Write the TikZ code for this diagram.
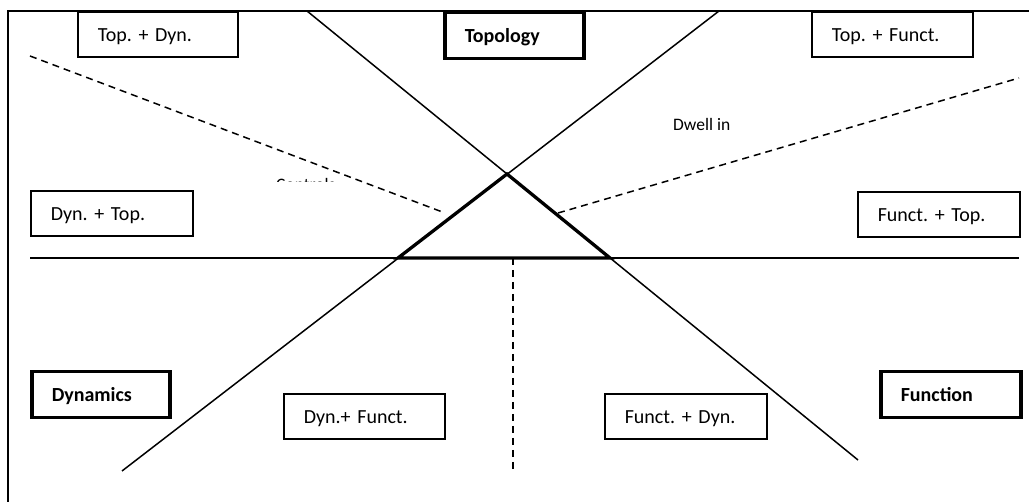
\documentclass[tikz,border=0pt]{standalone}
\usepackage{fontspec}
\setmainfont{Carlito}
\frenchspacing
\begin{document}
\begin{tikzpicture}[x=1pt,y=-1pt,
  thinline/.style={line width=1.5pt},
  dashline/.style={line width=1.5pt, dash pattern=on 7pt off 5pt},
  box/.style={draw, line width=1.6pt, rectangle, anchor=north west,
    inner xsep=20pt, inner ysep=0pt, align=left,
    text height=30pt, text depth=15pt,
    font=\fontsize{20}{23}\selectfont},
  keybox/.style={box, line width=3.5pt, text depth=16pt,
    font=\bfseries\fontsize{20}{23}\selectfont},
  smalltext/.style={anchor=base west, inner sep=0pt,
    font=\fontsize{17.5}{20}\selectfont}
]
\useasboundingbox (0,0) rectangle (1029,502);
\clip (0,0) rectangle (1029,502);

% frame
\coordinate (fbl) at (8,530);
\coordinate (ftl) at (8,11);
\coordinate (ftr) at (1050,11);
\draw[thinline] (fbl) -- (ftl) -- (ftr);

% boxes
\node[box, text width=120pt] (tdyn) at (77,11) {Top. + Dyn.};
\node[keybox, text width=99pt] (topo) at (443,11) {Topology};
\node[box, text width=121pt] (tfun) at (811,11) {Top. + Funct.};
\node[box, text width=122pt] (dtop) at (30,190) {Dyn. + Top.};
\node[box, text width=122pt] (ftop) at (857,191) {Funct. + Top.};
\node[keybox, text width=98pt] (dyn) at (30,370) {Dynamics};
\node[box, text width=121pt] (dfun) at (283,393) {Dyn.+ Funct.};
\node[box, text width=122pt] (fdyn) at (604,393) {Funct. + Dyn.};
\node[keybox, text width=100pt] (fun) at (879,370) {Function};

% main lines
\coordinate (l1a) at (307,11);
\coordinate (l1b) at (858,460);
\coordinate (l2a) at (122,471);
\coordinate (l2b) at (719,11);
\coordinate (hl) at (30,258);
\coordinate (hr) at (1019,258);
\draw[thinline] (l1a) -- (l1b);
\draw[thinline] (l2a) -- (l2b);
\draw[thinline] (hl) -- (hr);

% triangle
\coordinate (apex) at (507,174);
\coordinate (tbl) at (398,258);
\coordinate (tbr) at (610,258);
\draw[line width=3.3pt, line join=miter] (tbl) -- (apex) -- (tbr) -- cycle;

% dashed lines
\coordinate (dla) at (30,56);
\coordinate (dlb) at (445,213);
\coordinate (dra) at (558,213);
\coordinate (drb) at (1019,78);
\coordinate (dva) at (513,258);
\coordinate (dvb) at (513,471);
\draw[dashline] (dla) -- (dlb);
\draw[dashline] (dra) -- (drb);
\draw[dashline] (dva) -- (dvb);

% labels
\node[smalltext] (dwell) at (673,131) {Dwell in};
\begin{scope}
\clip (230,170) rectangle (345,181.3);
\node[smalltext] (ctrl) at (276,190.7) {Controls};
\end{scope}
\end{tikzpicture}
\end{document}
